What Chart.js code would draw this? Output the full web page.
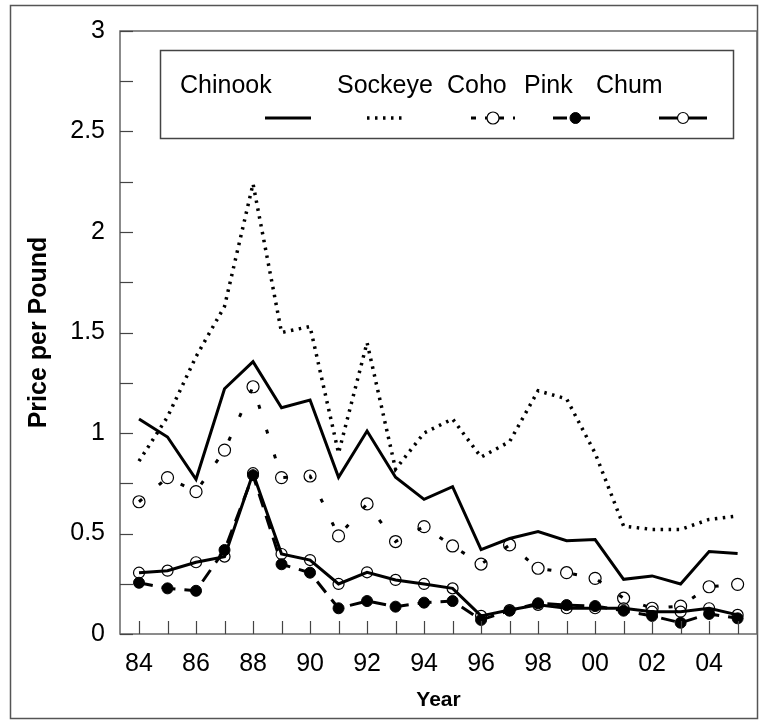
<!DOCTYPE html>
<html><head><meta charset="utf-8">
<script src="https://cdn.jsdelivr.net/npm/chart.js@4/dist/chart.umd.min.js"></script>
<style>html,body{margin:0;padding:0;background:#fff}#wrap{width:767px;height:727px;position:relative}</style>
</head><body><div id="wrap"><canvas id="c" width="767" height="727"></canvas></div>
<script>
const years = [1984,1985,1986,1987,1988,1989,1990,1991,1992,1993,1994,1995,1996,1997,1998,1999,2000,2001,2002,2003,2004,2005];
const yearTickLabels = ['84','86','88','90','92','94','96','98','00','02','04'];
const yTickLabels = ['0','0.5','1','1.5','2','2.5','3'];
const seriesNames = ['Chinook','Sockeye','Coho','Pink','Chum'];
const chinook = [1.07,0.98,0.77,1.22,1.355,1.126,1.164,0.78,1.01,0.78,0.67,0.733,0.42,0.475,0.51,0.464,0.47,0.272,0.289,0.249,0.41,0.40];
const sockeye = [0.86,1.08,1.38,1.63,2.24,1.50,1.53,0.90,1.45,0.82,1.00,1.07,0.88,0.957,1.21,1.17,0.90,0.537,0.52,0.52,0.57,0.587];
const coho    = [0.658,0.778,0.708,0.915,1.23,0.778,0.786,0.488,0.647,0.46,0.534,0.438,0.348,0.443,0.327,0.305,0.277,0.178,0.128,0.139,0.235,0.247];
const pink    = [0.255,0.227,0.215,0.418,0.79,0.347,0.305,0.128,0.164,0.136,0.156,0.164,0.07,0.116,0.153,0.144,0.139,0.116,0.09,0.056,0.10,0.078];
const chum    = [0.305,0.315,0.357,0.385,0.80,0.398,0.368,0.249,0.307,0.269,0.249,0.227,0.09,0.119,0.145,0.128,0.128,0.128,0.111,0.111,0.128,0.095];

const FONT = "'Liberation Sans', Arial, sans-serif";
const pts = arr => arr.map((v,i)=>({x:years[i], y:v}));

const styles = [
  {borderColor:'#000', borderWidth:3, borderDash:[], pointRadius:0},
  {borderColor:'#000', borderWidth:3.5, borderDash:[2.5,5.5], pointRadius:0},
  {borderColor:'#000', borderWidth:3, borderDash:[4,22], pointRadius:6, pointBackgroundColor:'rgba(0,0,0,0)', pointBorderColor:'#000', pointBorderWidth:1.2},
  {borderColor:'#000', borderWidth:3, borderDash:[14,9], pointRadius:5.5, pointBackgroundColor:'#000', pointBorderColor:'#000', pointBorderWidth:1},
  {borderColor:'#000', borderWidth:3, borderDash:[], pointRadius:5.5, pointBackgroundColor:'rgba(0,0,0,0)', pointBorderColor:'#000', pointBorderWidth:1.2}
];
const dataArrays = [chinook, sockeye, coho, pink, chum];
const datasets = dataArrays.map((arr,i)=>Object.assign({label:seriesNames[i], data:pts(arr), tension:0, fill:false}, styles[i]));

const framePlugin = {
  id:'frame',
  afterDraw(chart){
    const ctx = chart.ctx, a = chart.chartArea;
    const xs = chart.scales.x, ys = chart.scales.y;
    ctx.save();
    ctx.strokeStyle = '#555'; ctx.lineWidth = 1.5;
    ctx.strokeRect(10.5, 5.5, 747, 713);
    ctx.strokeStyle = '#666'; ctx.lineWidth = 1.5;
    ctx.strokeRect(a.left, a.top, a.right - a.left, a.bottom - a.top);
    ctx.strokeStyle = '#444'; ctx.lineWidth = 1.2;
    xs.ticks.forEach(t=>{
      const px = Math.round(xs.getPixelForValue(t.value)) + 0.5;
      ctx.beginPath(); ctx.moveTo(px, a.bottom); ctx.lineTo(px, a.bottom - 13); ctx.stroke();
    });
    ys.ticks.forEach(t=>{
      const py = Math.round(ys.getPixelForValue(t.value)) + 0.5;
      ctx.beginPath(); ctx.moveTo(a.left, py); ctx.lineTo(a.left + 13, py); ctx.stroke();
    });
    const L = {left:160, top:50, right:733, bottom:138};
    ctx.fillStyle = '#fff';
    ctx.fillRect(L.left, L.top, L.right-L.left, L.bottom-L.top);
    ctx.strokeStyle = '#444'; ctx.lineWidth = 1.5;
    ctx.strokeRect(L.left+0.5, L.top+0.5, L.right-L.left, L.bottom-L.top);
    const textX = [180, 337, 447, 524, 596];
    const sample = [[265,311],[367,405],[471,515],[553,598],[659,707]];
    const textY = 86, sampleY = 118;
    ctx.font = '25px ' + FONT; ctx.fillStyle = '#000';
    ctx.textBaseline = 'middle'; ctx.textAlign = 'left';
    chart.data.datasets.forEach((ds,i)=>{
      ctx.fillText(ds.label, textX[i], textY);
      const [x0,x1] = sample[i];
      ctx.save();
      ctx.strokeStyle = ds.borderColor; ctx.lineWidth = ds.borderWidth;
      ctx.setLineDash(i===2 ? [5,9] : (ds.borderDash||[]));
      ctx.beginPath(); ctx.moveTo(x0, sampleY); ctx.lineTo(x1, sampleY); ctx.stroke();
      ctx.restore();
      if (ds.pointRadius > 0) {
        const cx = (x0+x1)/2;
        ctx.beginPath(); ctx.arc(cx, sampleY, ds.pointRadius, 0, Math.PI*2);
        ctx.fillStyle = ds.pointBackgroundColor === '#000' ? '#000' : '#fff';
        ctx.fill();
        ctx.lineWidth = ds.pointBorderWidth; ctx.strokeStyle = '#000'; ctx.stroke();
        ctx.fillStyle = '#000';
      }
    });
    ctx.restore();
  }
};

new Chart(document.getElementById('c'), {
  type:'line',
  data:{datasets},
  options:{
    responsive:false, animation:false, devicePixelRatio:1,
    layout:{padding:{left:0, top:31, right:10, bottom:0}},
    plugins:{legend:{display:false}, tooltip:{enabled:false}},
    scales:{
      x:{
        type:'linear', position:'bottom', min:1983.333, max:2005.68,
        afterBuildTicks: s => { s.ticks = years.map(v=>({value:v})); },
        afterFit: s => { s.height = 93; },
        grid:{display:false, drawTicks:false},
        border:{display:false},
        ticks:{autoSkip:false, maxRotation:0, padding:15, color:'#000',
          font:{family:FONT, size:25},
          callback: v => ((v-1984)%2===0 ? yearTickLabels[(v-1984)/2] : '')},
        title:{display:true, text:'Year', color:'#000', font:{family:FONT, size:21, weight:'bold'}, padding:{top:0,bottom:14}}
      },
      y:{
        min:0, max:3,
        afterBuildTicks: s => { const t=[]; for(let k=0;k<=12;k++) t.push({value:k*0.25}); s.ticks=t; },
        afterFit: s => { s.width = 120; },
        grid:{display:false, drawTicks:false},
        border:{display:false},
        ticks:{autoSkip:false, padding:15, color:'#000',
          font:{family:FONT, size:25},
          callback: v => (Math.abs(v*2 - Math.round(v*2))<1e-9 ? yTickLabels[Math.round(v*2)] : '')},
        title:{display:true, text:'Price per Pound', color:'#000', font:{family:FONT, size:25, weight:'bold'}, padding:{top:24,bottom:0}}
      }
    }
  },
  plugins:[framePlugin]
});
</script>
</body></html>
